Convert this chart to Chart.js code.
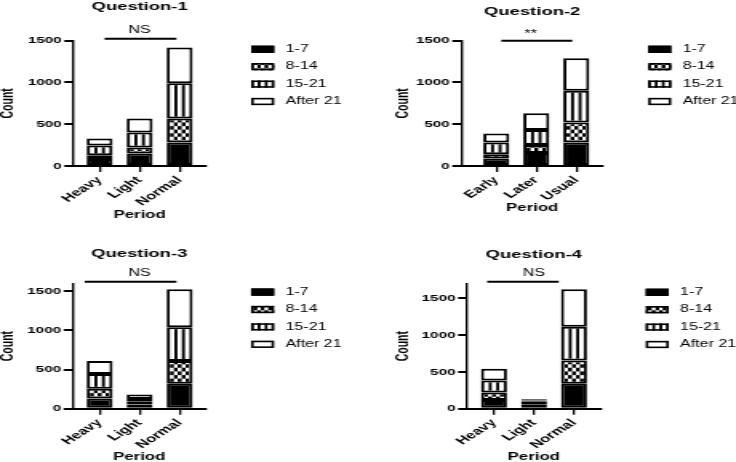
<!DOCTYPE html>
<html>
<head>
<meta charset="utf-8">
<script src="https://cdn.jsdelivr.net/npm/chart.js@4.4.1/dist/chart.umd.min.js"></script>
<style>
  html, body { margin: 0; padding: 0; background: #fff; }
  body { width: 736px; height: 462px; position: relative; overflow: hidden; }
  /* the source figure is stretched sideways, so each panel is drawn narrow and widened */
  .panel { position: absolute; width: 230px; height: 231px; transform: scaleX(1.6); transform-origin: 0 0; }
</style>
</head>
<body>
<div class="panel" style="left:0;top:0"><canvas id="q1" width="230" height="231"></canvas></div>
<div class="panel" style="left:368px;top:0"><canvas id="q2" width="230" height="231"></canvas></div>
<div class="panel" style="left:0;top:231px"><canvas id="q3" width="230" height="231"></canvas></div>
<div class="panel" style="left:368px;top:231px"><canvas id="q4" width="230" height="231"></canvas></div>
<script>
// data
const groups = ["1-7", "8-14", "15-21", "After 21"];
const yTicks = [0, 500, 1000, 1500];

const q1Periods = ["Heavy", "Light", "Normal"];
const q1Days1to7 = [85, 150, 280];
const q1Days8to14 = [45, 70, 290];
const q1Days15to21 = [115, 180, 420];
const q1After21 = [85, 170, 430];

const q2Periods = ["Early", "Later", "Usual"];
const q2Days1to7 = [90, 155, 280];
const q2Days8to14 = [50, 95, 240];
const q2Days15to21 = [140, 180, 380];
const q2After21 = [110, 200, 390];

const q3Periods = ["Heavy", "Light", "Normal"];
const q3Days1to7 = [130, 55, 320];
const q3Days8to14 = [125, 40, 290];
const q3Days15to21 = [190, 30, 430];
const q3After21 = [165, 55, 485];

const q4Periods = ["Heavy", "Light", "Normal"];
const q4Days1to7 = [120, 60, 340];
const q4Days8to14 = [100, 35, 315];
const q4Days15to21 = [165, 15, 460];
const q4After21 = [160, 20, 510];

Chart.defaults.font.family = '"Liberation Sans", Arial, sans-serif';
Chart.defaults.color = "#000";

const UNIT_PX = 25;     // px per category step (before the stretch)
const BAR_SHARE = 0.65; // bar width / category step
const BORDER = 2;

// fill patterns
function makeTile(w, h, draw) {
  const c = document.createElement("canvas");
  c.width = w;
  c.height = h;
  draw(c.getContext("2d"));
  return c;
}
const checkerTile = makeTile(6, 6, (g) => {
  g.fillStyle = "#000";
  g.fillRect(0, 0, 6, 6);
  g.fillStyle = "#fff";
  g.fillRect(0, 0, 3, 3);
  g.fillRect(3, 3, 3, 3);
});
const stripeTile = makeTile(5, 1, (g) => {
  g.fillStyle = "#fff";
  g.fillRect(0, 0, 3, 1);
  g.fillStyle = "#000";
  g.fillRect(3, 0, 2, 1);
});

function fillFor(ctx, k, left, width) {
  if (k === 0) return "#000";
  if (k === 3) return "#fff";
  if (!isFinite(left) || !isFinite(width) || width <= 0) return "#000";
  const pat = ctx.createPattern(k === 1 ? checkerTile : stripeTile, "repeat");
  const sx = k === 1 ? width / 15 : width / 13;
  const sy = k === 1 ? 1.2 : 1;
  pat.setTransform(new DOMMatrix().translate(left, 0).scale(sx, sy));
  return pat;
}

const panels = [
  {
    id: "q1", title: "Question-1", periods: q1Periods,
    series: [q1Days1to7, q1Days8to14, q1Days15to21, q1After21],
    yMax: 1500, xMin: -0.66, xMax: 2.66, yWidth: 45.8,
    titlePad: { top: 0, bottom: 26.9 }, xHeight: 65, periodPad: 10, countPad: 0,
    sig: { text: "NS", from: 0.125, to: 1.92, y: 1524, x: 1 },
  },
  {
    id: "q2", title: "Question-2", periods: q2Periods,
    series: [q2Days1to7, q2Days8to14, q2Days15to21, q2After21],
    yMax: 1500, xMin: -0.876, xMax: 2.67, yWidth: 58.3,
    titlePad: { top: 4.6, bottom: 22.3 }, xHeight: 65, periodPad: 16.3, countPad: 16.6,
    sig: { text: "**", from: 0.125, to: 1.9, y: 1500, x: 0.86 },
  },
  {
    id: "q3", title: "Question-3", periods: q3Periods,
    series: [q3Days1to7, q3Days8to14, q3Days15to21, q3After21],
    yMax: 1600, xMin: -0.676, xMax: 2.658, yWidth: 45.4,
    titlePad: { top: 16.1, bottom: 22.6 }, xHeight: 53.3, periodPad: -1.7, countPad: 0,
    sig: { text: "NS", from: -0.375, to: 1.92, y: 1623, x: 1 },
  },
  {
    id: "q4", title: "Question-4", periods: q4Periods,
    series: [q4Days1to7, q4Days8to14, q4Days15to21, q4After21],
    yMax: 1700, xMin: -0.674, xMax: 2.666, yWidth: 61.9,
    titlePad: { top: 17.1, bottom: 21.8 }, xHeight: 53.3, periodPad: -1.7, countPad: 16.6,
    sig: { text: "NS", from: -0.17, to: 1.62, y: 1727, x: 1 },
  },
];

// significance bar + legend
function extrasPlugin(p) {
  return {
    id: "extras",
    afterDraw(chart) {
      const { ctx, chartArea, scales } = chart;
      const x = scales.x, y = scales.y;
      ctx.save();
      const lineY = y.getPixelForValue(p.sig.y);
      ctx.strokeStyle = "#000";
      ctx.lineWidth = 2;
      ctx.beginPath();
      ctx.moveTo(x.getPixelForValue(p.sig.from), lineY);
      ctx.lineTo(x.getPixelForValue(p.sig.to), lineY);
      ctx.stroke();

      ctx.font = '10px "Liberation Sans", Arial, sans-serif';
      ctx.fillStyle = "#000";
      ctx.textAlign = "center";
      ctx.textBaseline = "alphabetic";
      const m = ctx.measureText(p.sig.text);
      const cy = lineY - 9.5;
      ctx.fillText(p.sig.text, x.getPixelForValue(p.sig.x),
        cy + (m.actualBoundingBoxAscent - m.actualBoundingBoxDescent) / 2);

      ctx.font = '10px "Liberation Sans", Arial, sans-serif';
      chart.data.datasets.forEach((ds, k) => {
        const bx = chartArea.right + 28.2;
        const by = chartArea.top + 8.6 + k * 17.4;
        const bw = 14.4, bh = 7.3;
        ctx.fillStyle = fillFor(ctx, k, bx + 1.5, bw - 3);
        ctx.fillRect(bx, by - bh / 2, bw, bh);
        ctx.lineWidth = 1.6;
        ctx.strokeStyle = "#000";
        ctx.strokeRect(bx + 0.8, by - bh / 2 + 0.8, bw - 1.6, bh - 1.6);
        ctx.fillStyle = "#000";
        ctx.textAlign = "left";
        ctx.textBaseline = "middle";
        ctx.fillText(ds.label, bx + 21.5, by);
      });
      ctx.restore();
    },
  };
}

panels.forEach((p) => {
  const padRight = 230 - p.yWidth - (p.xMax - p.xMin) * UNIT_PX;
  new Chart(document.getElementById(p.id), {
    type: "bar",
    data: {
      datasets: groups.map((g, k) => ({
        label: g,
        data: p.series[k].map((v, i) => ({ x: i, y: v })),
        backgroundColor: (c) => {
          if (c.type !== "data") return k === 3 ? "#fff" : "#000";
          const xs = c.chart.scales.x;
          const bw = (xs.getPixelForValue(1) - xs.getPixelForValue(0)) * BAR_SHARE;
          const left = xs.getPixelForValue(c.dataIndex) - bw / 2 + BORDER;
          return fillFor(c.chart.ctx, k, left, bw - 2 * BORDER);
        },
        borderColor: "#000",
        borderWidth: BORDER,
        borderSkipped: false,
        categoryPercentage: BAR_SHARE,
        barPercentage: 1,
      })),
    },
    options: {
      responsive: false,
      animation: false,
      devicePixelRatio: 1,
      events: [],
      layout: { padding: { left: 0, right: padRight, top: 0, bottom: 0 } },
      plugins: {
        legend: { display: false },
        tooltip: { enabled: false },
        title: {
          display: true,
          text: p.title,
          fullSize: false,
          color: "#000",
          font: { size: 11.5, weight: "bold", lineHeight: 1.2 },
          padding: p.titlePad,
        },
      },
      scales: {
        x: {
          type: "linear",
          min: p.xMin,
          max: p.xMax,
          offset: false,
          stacked: true,
          afterBuildTicks: (ax) => { ax.ticks = p.periods.map((_, i) => ({ value: i })); },
          afterFit: (s) => { s.height = p.xHeight; },
          grid: { offset: false, drawOnChartArea: false, drawTicks: true, tickLength: 6, color: "#000", lineWidth: 1.3 },
          border: { display: true, color: "#000", width: 2 },
          ticks: {
            autoSkip: false,
            minRotation: 45,
            maxRotation: 45,
            padding: 2,
            color: "#000",
            font: { size: 10.5, weight: "bold" },
            callback: (v) => p.periods[v],
          },
          title: {
            display: true,
            text: "Period",
            color: "#000",
            font: { size: 10.5, weight: "bold", lineHeight: 1.2 },
            padding: { top: 0, bottom: p.periodPad },
          },
        },
        y: {
          min: 0,
          max: p.yMax,
          stacked: true,
          afterBuildTicks: (ax) => { ax.ticks = yTicks.map((v) => ({ value: v })); },
          afterFit: (s) => { s.width = p.yWidth; },
          grid: { drawOnChartArea: false, drawTicks: true, tickLength: 5.6, color: "#000", lineWidth: 2 },
          border: { display: true, color: "#000", width: 1.4 },
          ticks: {
            padding: 1.6,
            color: "#000",
            font: { size: 9.5, weight: "bold" },
            callback: (v) => String(v),
          },
          title: {
            display: true,
            text: "Count",
            color: "#000",
            font: { size: 10.5, weight: "bold", lineHeight: 1 },
            padding: { top: p.countPad, bottom: 0 },
          },
        },
      },
    },
    plugins: [extrasPlugin(p)],
  });
});
</script>
</body>
</html>
